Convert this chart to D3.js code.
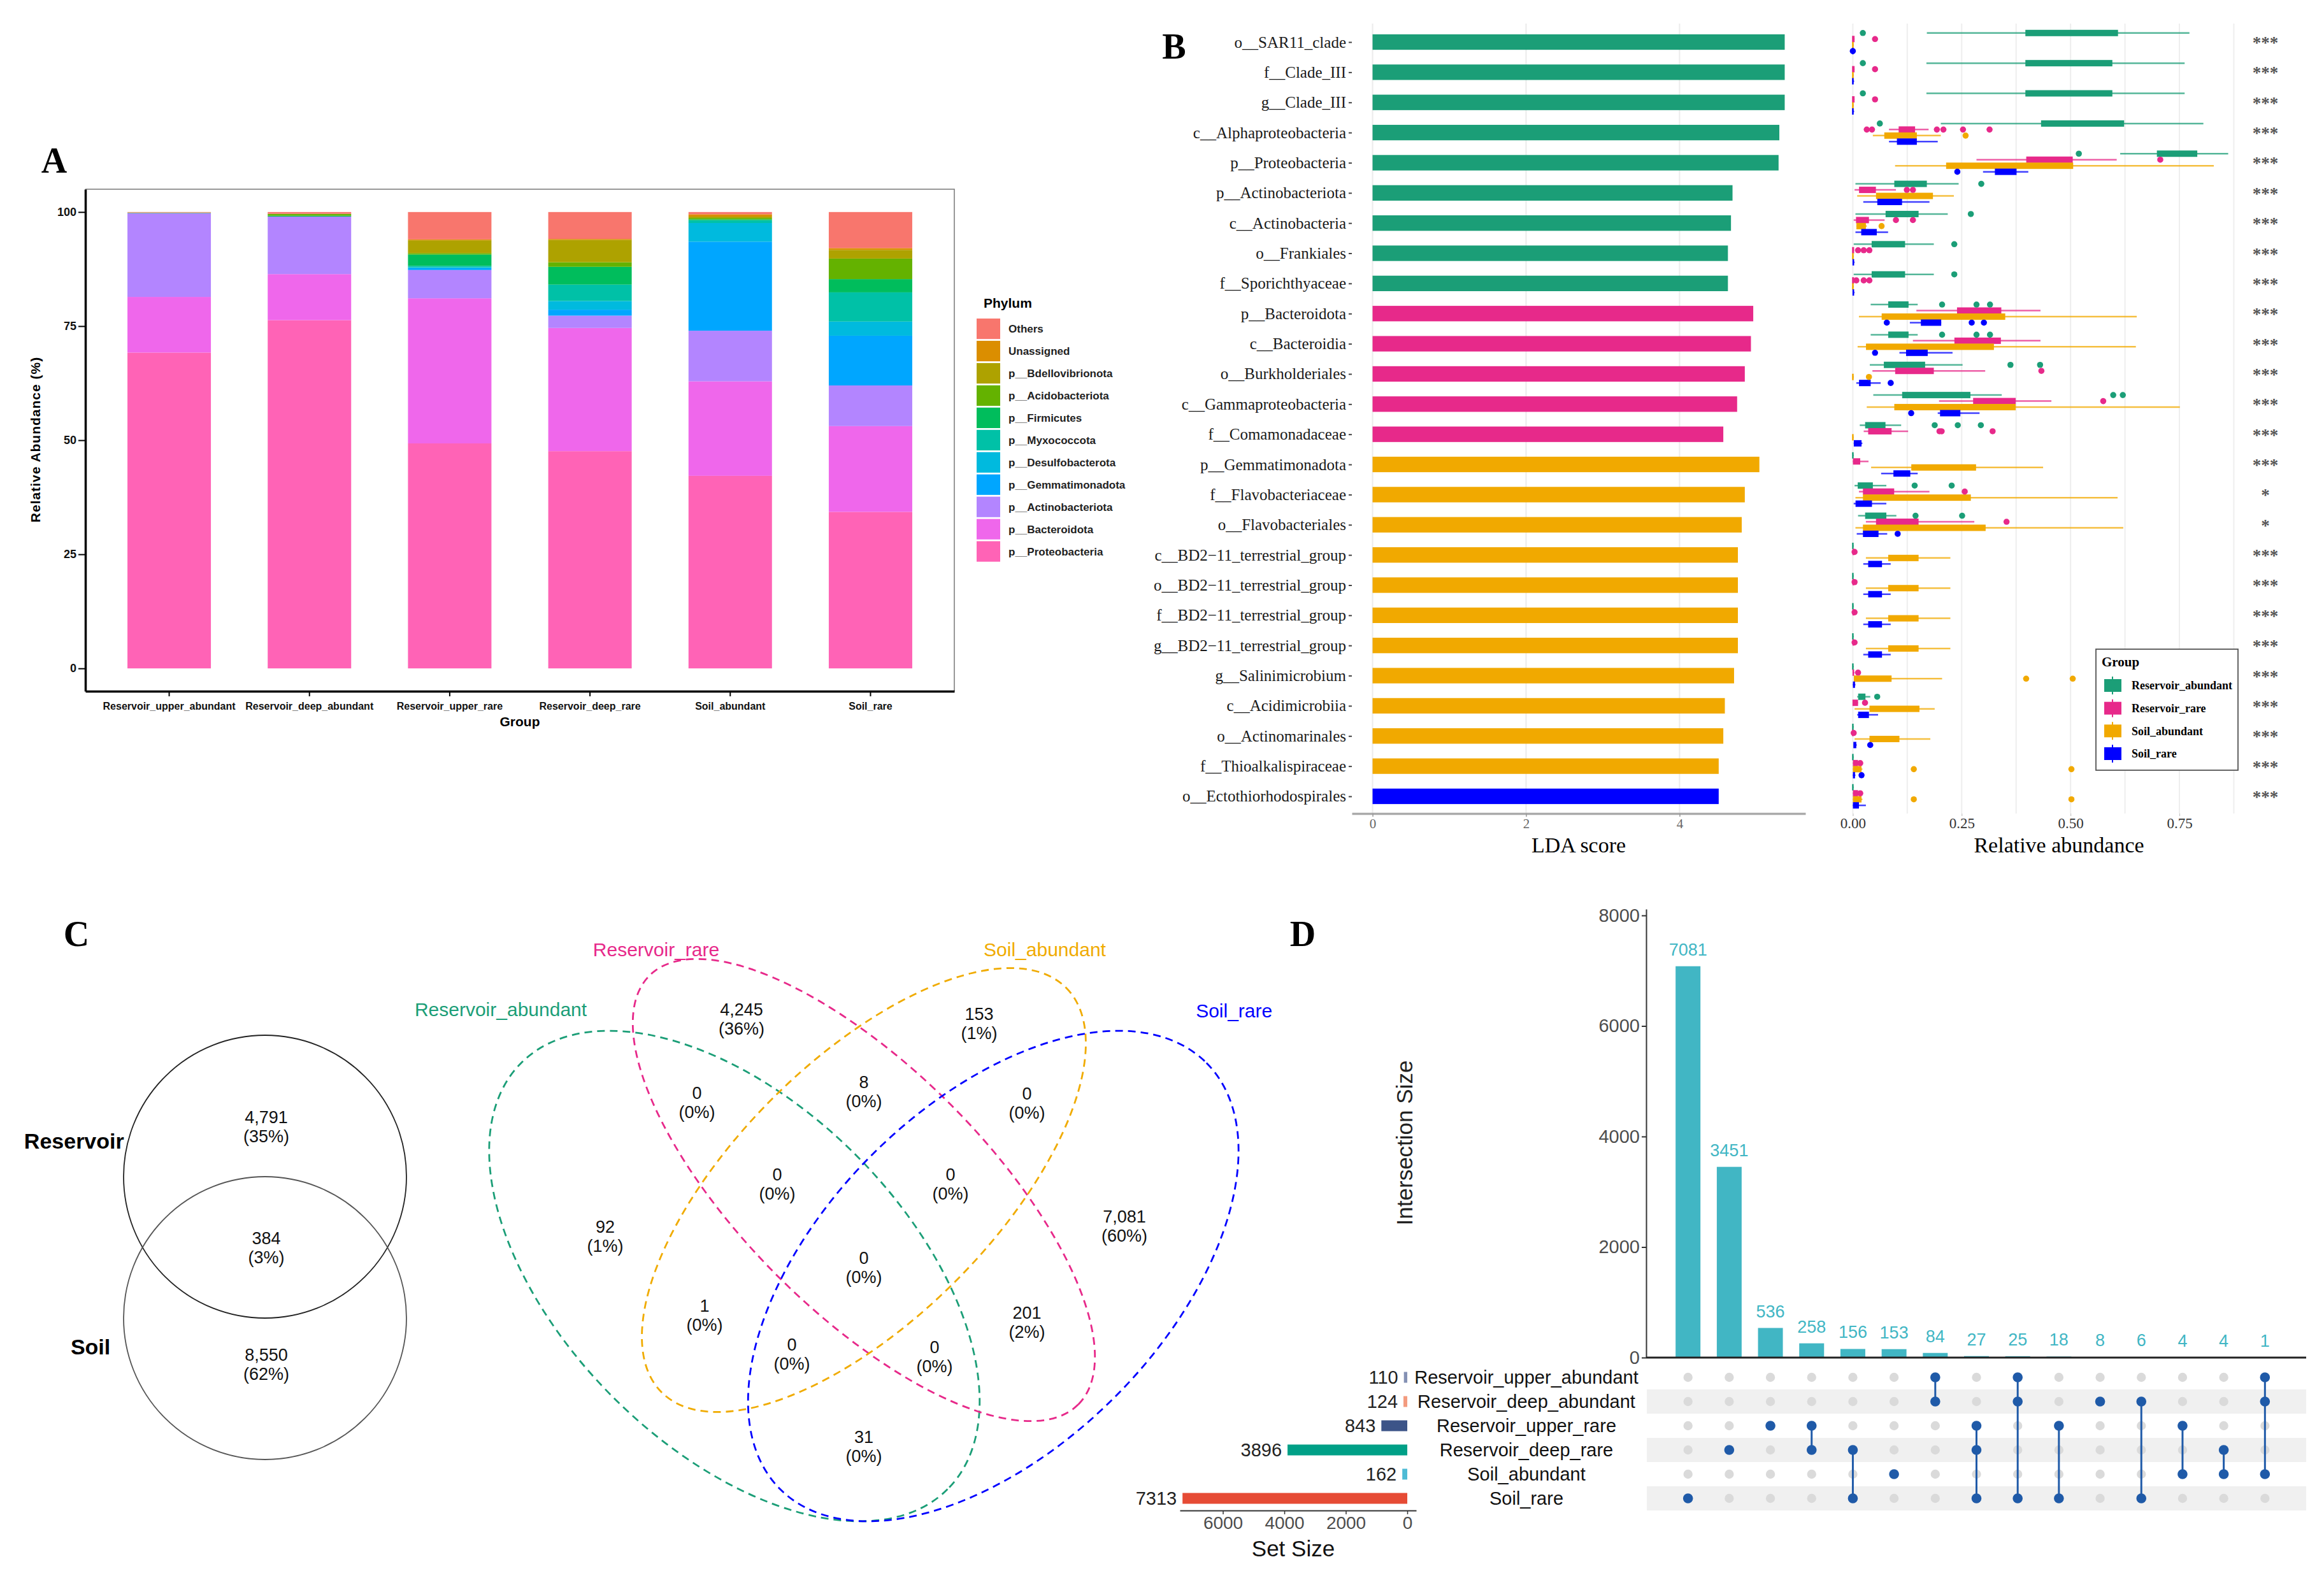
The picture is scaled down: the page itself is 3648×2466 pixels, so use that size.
<!DOCTYPE html>
<html>
<head>
<meta charset="utf-8">
<script src="https://cdn.jsdelivr.net/npm/d3@7"></script>
<style>
  body { margin: 0; background: #fff; }
  svg { display: block; }
  .sans { font-family: "Liberation Sans", Arial, sans-serif; }
  .serif { font-family: "Liberation Serif", "Times New Roman", serif; }
</style>
</head>
<body>
<svg id="fig" width="3648" height="2466"></svg>
<script>
// ---------------- data: panel A (phylum composition, %) ----------------
var groupsA = ["Reservoir_upper_abundant", "Reservoir_deep_abundant", "Reservoir_upper_rare",
    "Reservoir_deep_rare", "Soil_abundant", "Soil_rare"];
// stacking order, bottom first
var phyla = ["p__Proteobacteria", "p__Bacteroidota", "p__Actinobacteriota", "p__Gemmatimonadota",
    "p__Desulfobacterota", "p__Myxococcota", "p__Firmicutes", "p__Acidobacteriota",
    "p__Bdellovibrionota", "Unassigned", "Others"];
var proteobacteria = [69.2, 76.3, 49.3, 47.6, 42.2, 34.3];
var bacteroidota = [12.2, 10.1, 31.8, 27.0, 20.7, 18.8];
var actinobacteriota = [18.3, 12.6, 6.2, 2.7, 11.1, 8.9];
var gemmatimonadota = [0.0, 0.0, 0.4, 1.3, 19.5, 10.9];
var desulfobacterota = [0.1, 0.0, 0.2, 1.9, 4.1, 3.1];
var myxococcota = [0.0, 0.0, 0.3, 3.6, 0.6, 6.4];
var firmicutes = [0.0, 0.2, 2.5, 3.9, 0.2, 2.9];
var acidobacteriota = [0.0, 0.4, 0.3, 1.0, 0.3, 4.5];
var bdellovibrionota = [0.0, 0.0, 2.8, 4.9, 0.3, 1.9];
var unassigned = [0.1, 0.0, 0.2, 0.2, 0.5, 0.4];
var others = [0.1, 0.4, 6.0, 5.9, 0.5, 7.9];
var phylumValues = [proteobacteria, bacteroidota, actinobacteriota, gemmatimonadota,
    desulfobacterota, myxococcota, firmicutes, acidobacteriota, bdellovibrionota, unassigned, others];
var phylumColors = ["#FF63B6", "#EF67EB", "#B385FF", "#00A6FF", "#00BADE", "#00C1A7",
    "#00BD5C", "#64B200", "#AEA200", "#DB8E00", "#F8766D"];

// ---------------- data: panel B (LEfSe) ----------------
var ldaTaxa = ["o__SAR11_clade", "f__Clade_III", "g__Clade_III", "c__Alphaproteobacteria",
    "p__Proteobacteria", "p__Actinobacteriota", "c__Actinobacteria", "o__Frankiales",
    "f__Sporichthyaceae", "p__Bacteroidota", "c__Bacteroidia", "o__Burkholderiales",
    "c__Gammaproteobacteria", "f__Comamonadaceae", "p__Gemmatimonadota", "f__Flavobacteriaceae",
    "o__Flavobacteriales", "c__BD2\u221211_terrestrial_group", "o__BD2\u221211_terrestrial_group",
    "f__BD2\u221211_terrestrial_group", "g__BD2\u221211_terrestrial_group", "g__Salinimicrobium",
    "c__Acidimicrobiia", "o__Actinomarinales", "f__Thioalkalispiraceae", "o__Ectothiorhodospirales"];
var ldaScore = [5.37, 5.37, 5.37, 5.30, 5.29, 4.69, 4.67, 4.63, 4.63, 4.96, 4.93, 4.85, 4.75,
    4.57, 5.04, 4.85, 4.81, 4.76, 4.76, 4.76, 4.76, 4.71, 4.59, 4.57, 4.51, 4.51];
var ldaGroup = ["Reservoir_abundant", "Reservoir_abundant", "Reservoir_abundant", "Reservoir_abundant",
    "Reservoir_abundant", "Reservoir_abundant", "Reservoir_abundant", "Reservoir_abundant",
    "Reservoir_abundant", "Reservoir_rare", "Reservoir_rare", "Reservoir_rare", "Reservoir_rare",
    "Reservoir_rare", "Soil_abundant", "Soil_abundant", "Soil_abundant", "Soil_abundant",
    "Soil_abundant", "Soil_abundant", "Soil_abundant", "Soil_abundant", "Soil_abundant",
    "Soil_abundant", "Soil_abundant", "Soil_rare"];
var sigLabels = ["***", "***", "***", "***", "***", "***", "***", "***", "***", "***", "***", "***",
    "***", "***", "***", "*", "*", "***", "***", "***", "***", "***", "***", "***", "***", "***"];
var boxGroups = ["Reservoir_abundant", "Reservoir_rare", "Soil_abundant", "Soil_rare"];
var boxColors = ["#1B9E77", "#E7298A", "#F1A900", "#0000FF"];
// [lower whisker, q1, q3, upper whisker] per taxon
var raBox = [[0.170, 0.398, 0.609, 0.773], [0.169, 0.398, 0.596, 0.762], [0.169, 0.398, 0.596, 0.762],
    [0.202, 0.434, 0.623, 0.805], [0.614, 0.700, 0.791, 0.862], [0.006, 0.097, 0.170, 0.243],
    [0.006, 0.077, 0.151, 0.218], [0.002, 0.045, 0.120, 0.186], [0.002, 0.045, 0.120, 0.186],
    [0.041, 0.083, 0.128, 0.149], [0.041, 0.083, 0.128, 0.149], [0.039, 0.073, 0.166, 0.252],
    [0.047, 0.115, 0.270, 0.342], [0.016, 0.030, 0.075, 0.111], [0, 0, 0.001, 0.002],
    [0.004, 0.013, 0.046, 0.077], [0.012, 0.030, 0.077, 0.100], [0, 0, 0.001, 0.002],
    [0, 0, 0.001, 0.002], [0, 0, 0.001, 0.002], [0, 0, 0.001, 0.002], [0, 0, 0.001, 0.002],
    [0.010, 0.014, 0.029, 0.040], [0, 0, 0.001, 0.002], [0, 0, 0.001, 0.002], [0, 0, 0.001, 0.002]];
var raOut = [[0.023], [0.023], [0.023], [0.062], [0.519], [0.295], [0.271], [0.233], [0.233],
    [0.205, 0.284, 0.315], [0.205, 0.284, 0.315], [0.362, 0.430], [0.598, 0.620], [0.188, 0.241, 0.294],
    [], [0.142, 0.227], [0.144, 0.251], [], [], [], [], [], [0.056], [], [], []];
var rrBox = [[0, 0, 0.004, 0.004], [0, 0, 0.004, 0.004], [0, 0, 0.004, 0.004],
    [0.083, 0.107, 0.143, 0.174], [0.284, 0.400, 0.505, 0.606], [0.004, 0.016, 0.053, 0.099],
    [0.002, 0.009, 0.037, 0.073], [0, 0, 0.003, 0.003], [0, 0, 0.003, 0.003],
    [0.146, 0.241, 0.341, 0.431], [0.138, 0.235, 0.340, 0.431], [0.045, 0.099, 0.186, 0.304],
    [0.198, 0.278, 0.374, 0.456], [0.025, 0.037, 0.089, 0.127], [0, 0.002, 0.017, 0.036],
    [0.014, 0.025, 0.095, 0.176], [0.030, 0.055, 0.151, 0.279], [0, 0.001, 0.003, 0.004],
    [0, 0.001, 0.003, 0.004], [0, 0.001, 0.003, 0.004], [0, 0.001, 0.003, 0.004],
    [0, 0.001, 0.003, 0.004], [0, 0.001, 0.012, 0.012], [0, 0, 0.001, 0.002],
    [0, 0.002, 0.012, 0.017], [0, 0.002, 0.012, 0.017]];
var rrOut = [[0.051], [0.051], [0.051], [0.032, 0.044, 0.193, 0.208, 0.253, 0.314], [0.706],
    [0.124, 0.138], [0.099, 0.138], [0.012, 0.025, 0.038], [0.008, 0.025, 0.038], [], [], [0.433],
    [0.575], [0.199, 0.204, 0.321], [], [0.257], [0.353], [0.004], [0.004], [0.004], [0.004],
    [0.012], [0.028], [0.002], [0.017], [0.017]];
var saBox = [[0, 0, 0.002, 0.002], [0, 0, 0.002, 0.002], [0, 0, 0.002, 0.002],
    [0.046, 0.074, 0.147, 0.202], [0.097, 0.216, 0.506, 0.829], [0.010, 0.055, 0.184, 0.232],
    [0.008, 0.010, 0.030, 0.032], [0, 0, 0.002, 0.002], [0, 0, 0.002, 0.002],
    [0.014, 0.068, 0.350, 0.652], [0.011, 0.032, 0.324, 0.650], [0, 0, 0.002, 0.002],
    [0.032, 0.097, 0.374, 0.751], [0, 0, 0.001, 0.002], [0.042, 0.136, 0.283, 0.437],
    [0.006, 0.025, 0.271, 0.608], [0.006, 0.025, 0.305, 0.621], [0.030, 0.083, 0.151, 0.224],
    [0.030, 0.083, 0.151, 0.224], [0.030, 0.083, 0.151, 0.224], [0.030, 0.083, 0.151, 0.224],
    [0.004, 0.004, 0.089, 0.205], [0.004, 0.040, 0.153, 0.188], [0.004, 0.040, 0.107, 0.178],
    [0, 0.002, 0.020, 0.022], [0, 0.002, 0.020, 0.022]];
var saOut = [[], [], [], [0.259], [], [], [0.066], [], [], [], [], [0.037], [], [], [], [], [], [], [],
    [], [], [0.398, 0.505], [], [], [0.140, 0.502], [0.140, 0.502]];
var srBox = [[0, 0, 0.001, 0.001], [0, 0, 0.002, 0.003], [0, 0, 0.002, 0.003],
    [0.083, 0.103, 0.147, 0.195], [0.299, 0.328, 0.376, 0.403], [0.024, 0.058, 0.113, 0.176],
    [0.006, 0.021, 0.055, 0.081], [0, 0.001, 0.003, 0.004], [0, 0.001, 0.003, 0.004],
    [0.131, 0.158, 0.203, 0.203], [0.107, 0.124, 0.172, 0.229], [0.008, 0.016, 0.041, 0.064],
    [0.195, 0.202, 0.247, 0.291], [0.002, 0.004, 0.020, 0.022], [0.065, 0.095, 0.132, 0.149],
    [0.002, 0.008, 0.044, 0.077], [0.009, 0.025, 0.059, 0.079], [0.024, 0.037, 0.067, 0.087],
    [0.024, 0.037, 0.067, 0.087], [0.024, 0.037, 0.067, 0.087], [0.024, 0.037, 0.067, 0.087],
    [0, 0.002, 0.005, 0.006], [0.010, 0.014, 0.037, 0.058], [0.002, 0.003, 0.008, 0.009],
    [0, 0.002, 0.005, 0.006], [0, 0.002, 0.014, 0.030]];
var srOut = [[0], [], [], [], [0.240], [], [], [], [], [0.078, 0.273, 0.301], [0.051], [0.087], [0.134],
    [], [], [], [0.103], [], [], [], [], [], [], [0.040], [0.020], []];

// ---------------- data: panel C (Venn) ----------------
var vennTwoSets = ["Reservoir", "Soil"];
var vennTwoCounts = [4791, 384, 8550];          // Reservoir only, both, Soil only
var vennSets = ["Reservoir_abundant", "Reservoir_rare", "Soil_abundant", "Soil_rare"];
var vennColors = ["#1B9E77", "#E7298A", "#F0AB00", "#0000FF"];
var vennRegions = ["A", "B", "C", "D", "AB", "BC", "CD", "ABC", "BCD", "ABCD", "AC", "BD", "ACD", "ABD", "AD"];
var vennCounts = [92, 4245, 153, 7081, 0, 8, 0, 0, 0, 0, 1, 201, 0, 0, 31];

// ---------------- data: panel D (UpSet) ----------------
var upsetSets = ["Reservoir_upper_abundant", "Reservoir_deep_abundant", "Reservoir_upper_rare",
    "Reservoir_deep_rare", "Soil_abundant", "Soil_rare"];
var setSizes = [110, 124, 843, 3896, 162, 7313];
var setColors = ["#8491B4", "#F39B7F", "#3C5488", "#00A087", "#4DBBD5", "#E64B35"];
var interSizes = [7081, 3451, 536, 258, 156, 153, 84, 27, 25, 18, 8, 6, 4, 4, 1];
var interMembers = [[5], [3], [2], [2, 3], [3, 5], [4], [0, 1], [2, 3, 5], [0, 1, 5], [2, 5], [1],
    [1, 5], [2, 4], [3, 4], [0, 1, 4]];

// ========================================================================
var svg = d3.select("#fig");
svg.append("rect").attr("width", 3648).attr("height", 2466).attr("fill", "#fff");

function panelLetter(t, x, y) {
    svg.append("text").attr("class", "serif").attr("x", x).attr("y", y)
        .attr("text-anchor", "middle").attr("font-size", 56).attr("font-weight", "bold")
        .text(t);
}

// ============================ PANEL A ============================
panelLetter("A", 85, 271);
var gA = svg.append("g").attr("class", "sans");
var xA = d3.scaleBand().domain(groupsA).range([134, 1498]).paddingInner(0.405).paddingOuter(0.3);
var yA = d3.scaleLinear().domain([-5, 105]).range([1085, 297]);

var tableA = groupsA.map(function (g, i) {
    var row = { group: g };
    phyla.forEach(function (p, j) { row[p] = phylumValues[j][i]; });
    return row;
});
var stackA = d3.stack().keys(phyla)(tableA);

gA.append("g").selectAll("g").data(stackA).enter().append("g")
    .attr("fill", (d, i) => phylumColors[i])
    .selectAll("rect").data(d => d).enter().append("rect")
    .attr("x", d => xA(d.data.group)).attr("width", xA.bandwidth())
    .attr("y", d => yA(d[1])).attr("height", d => Math.max(0, yA(d[0]) - yA(d[1])));

// thin frame on top and right
gA.append("path").attr("d", "M134,297H1498V1085").attr("fill", "none")
    .attr("stroke", "#777").attr("stroke-width", 1.5);

var axAy = gA.append("g").attr("transform", "translate(134,0)")
    .call(d3.axisLeft(yA).tickValues([0, 25, 50, 75, 100]).tickSize(11).tickSizeOuter(0));
var axAx = gA.append("g").attr("transform", "translate(0,1085)")
    .call(d3.axisBottom(xA).tickSize(8).tickSizeOuter(0));
[axAy, axAx].forEach(function (ax) {
    ax.select(".domain").attr("stroke", "#000").attr("stroke-width", 3.5);
    ax.selectAll(".tick line").attr("stroke", "#000").attr("stroke-width", 2);
    ax.selectAll(".tick text").attr("font-size", 18).attr("font-weight", "bold")
        .attr("fill", "#111").attr("font-family", "Liberation Sans, Arial, sans-serif");
});
axAx.selectAll(".tick text").attr("font-size", 16).attr("dy", "1.1em");

gA.append("text").attr("transform", "translate(63,690) rotate(-90)")
    .attr("text-anchor", "middle").attr("font-size", 21).attr("font-weight", "bold")
    .attr("letter-spacing", 1).text("Relative Abundance (%)");
gA.append("text").attr("x", 816).attr("y", 1140).attr("text-anchor", "middle")
    .attr("font-size", 21).attr("font-weight", "bold").text("Group");

// legend (top entry = last stacked layer)
var legA = gA.append("g");
legA.append("text").attr("x", 1544).attr("y", 483).attr("font-size", 21)
    .attr("font-weight", "bold").text("Phylum");
var legOrder = phyla.slice().reverse();
var legY = d3.scaleBand().domain(legOrder).range([500, 500 + 34.7 * legOrder.length]).paddingInner(0.08);
legA.selectAll("rect").data(legOrder).enter().append("rect")
    .attr("x", 1533).attr("width", 37).attr("y", d => legY(d)).attr("height", legY.bandwidth())
    .attr("fill", d => phylumColors[phyla.indexOf(d)]);
legA.selectAll("text.lab").data(legOrder).enter().append("text").attr("class", "lab")
    .attr("x", 1583).attr("y", d => legY(d) + legY.bandwidth() / 2).attr("dy", "0.35em")
    .attr("font-size", 17).attr("font-weight", "bold").attr("fill", "#222").text(d => d);

// ============================ PANEL B ============================
panelLetter("B", 1843, 92);
var gB = svg.append("g").attr("class", "serif");
var yB = d3.scalePoint().domain(ldaTaxa).range([37.6, 1278.4]).padding(0.6);
var stepB = yB.step();
var xL = d3.scaleLinear().domain([-0.27, 5.64]).range([2122, 2834]);
var groupColor = d3.scaleOrdinal().domain(boxGroups).range(boxColors);

gB.append("g").selectAll("line").data([0, 2, 4]).enter().append("line")
    .attr("x1", d => xL(d)).attr("x2", d => xL(d)).attr("y1", 37).attr("y2", 1277)
    .attr("stroke", "#ebebeb").attr("stroke-width", 2);

var barH = stepB * 0.513;
gB.append("g").selectAll("rect").data(ldaTaxa).enter().append("rect")
    .attr("x", xL(0)).attr("width", (d, i) => xL(ldaScore[i]) - xL(0))
    .attr("y", d => yB(d) - barH / 2).attr("height", barH)
    .attr("fill", (d, i) => groupColor(ldaGroup[i]));

var axBy = gB.append("g").attr("transform", "translate(2122,0)")
    .call(d3.axisLeft(yB).tickSize(5).tickPadding(4));
axBy.select(".domain").remove();
axBy.selectAll(".tick line").attr("stroke", "#444").attr("stroke-width", 2);
axBy.selectAll(".tick text").attr("font-size", 25).attr("fill", "#1a1a1a")
    .attr("font-family", "Liberation Serif, Times New Roman, serif");

var axBx = gB.append("g").attr("transform", "translate(0,1277)")
    .call(d3.axisBottom(xL).tickValues([0, 2, 4]).tickFormat(d3.format("d")).tickSize(5).tickSizeOuter(0));
axBx.select(".domain").attr("stroke", "#aaa").attr("stroke-width", 3.5);
axBx.selectAll(".tick line").attr("stroke", "#999").attr("stroke-width", 1.5);
axBx.selectAll(".tick text").attr("font-size", 21).attr("fill", "#666")
    .attr("font-family", "Liberation Serif, Times New Roman, serif");
gB.append("text").attr("x", 2478).attr("y", 1338).attr("text-anchor", "middle")
    .attr("font-size", 34).text("LDA score");

// relative abundance box plots
var xR = d3.scaleLinear().domain([-0.043, 0.905]).range([2879, 3527]);
gB.append("g").selectAll("line").data(d3.range(0, 0.88, 0.125)).enter().append("line")
    .attr("x1", d => xR(d)).attr("x2", d => xR(d)).attr("y1", 37).attr("y2", 1277)
    .attr("stroke", "#eeeeee").attr("stroke-width", 2);

var dodge = d3.scaleBand().domain(boxGroups).range([-0.4 * stepB, 0.4 * stepB]);
var boxSets = [raBox, rrBox, saBox, srBox];
var outSets = [raOut, rrOut, saOut, srOut];
var boxRecs = [];
ldaTaxa.forEach(function (t, i) {
    boxGroups.forEach(function (g, k) {
        var b = boxSets[k][i];
        boxRecs.push({ taxon: t, group: g, lo: b[0], q1: b[1], q3: b[2], hi: b[3], out: outSets[k][i] });
    });
});
function yBox(d) { return yB(d.taxon) + dodge(d.group) + dodge.bandwidth() / 2; }

var gBox = gB.append("g");
gBox.selectAll("line.wh").data(boxRecs).enter().append("line").attr("class", "wh")
    .attr("x1", d => xR(d.lo)).attr("x2", d => xR(d.hi))
    .attr("y1", yBox).attr("y2", yBox)
    .attr("stroke", d => groupColor(d.group)).attr("stroke-opacity", 0.75).attr("stroke-width", 2.5);
gBox.selectAll("rect").data(boxRecs).enter().append("rect")
    .attr("x", d => xR(d.q1) - 1.2).attr("width", d => Math.max(2.5, xR(d.q3) - xR(d.q1) + 1.2))
    .attr("y", d => yBox(d) - 5).attr("height", 10)
    .attr("fill", d => groupColor(d.group));
var outRecs = [];
boxRecs.forEach(function (d) { d.out.forEach(function (v) { outRecs.push({ d: d, v: v }); }); });
gBox.selectAll("circle").data(outRecs).enter().append("circle")
    .attr("cx", o => xR(o.v)).attr("cy", o => yBox(o.d)).attr("r", 4.8)
    .attr("fill", o => groupColor(o.d.group));

var axR = gB.append("g").attr("transform", "translate(0,1277)")
    .call(d3.axisBottom(xR).tickValues([0, 0.25, 0.5, 0.75]).tickFormat(d3.format(".2f"))
        .tickSize(4).tickSizeOuter(0));
axR.select(".domain").remove();
axR.selectAll(".tick line").attr("stroke", "#bbb");
axR.selectAll(".tick text").attr("font-size", 23).attr("fill", "#333")
    .attr("font-family", "Liberation Serif, Times New Roman, serif");
gB.append("text").attr("x", 3232).attr("y", 1338).attr("text-anchor", "middle")
    .attr("font-size", 34).text("Relative abundance");

// significance stars
gB.append("g").selectAll("text").data(ldaTaxa).enter().append("text")
    .attr("x", 3556).attr("y", d => yB(d) + 10).attr("text-anchor", "middle")
    .attr("font-size", 27).attr("font-weight", "bold").attr("fill", "#555")
    .text((d, i) => sigLabels[i]);

// box legend
var legB = gB.append("g");
legB.append("rect").attr("x", 3290).attr("y", 1019).attr("width", 223).attr("height", 190)
    .attr("fill", "#fff").attr("stroke", "#555").attr("stroke-width", 1.8);
legB.append("text").attr("x", 3299).attr("y", 1046).attr("font-size", 21)
    .attr("font-weight", "bold").text("Group");
var legBy = d3.scalePoint().domain(boxGroups).range([1076, 1183]);
var legKeys = legB.selectAll("g.key").data(boxGroups).enter().append("g").attr("class", "key");
legKeys.append("line").attr("x1", 3316).attr("x2", 3316)
    .attr("y1", d => legBy(d) - 14).attr("y2", d => legBy(d) + 14)
    .attr("stroke", d => groupColor(d)).attr("stroke-width", 2);
legKeys.append("rect").attr("x", 3303).attr("width", 27)
    .attr("y", d => legBy(d) - 10).attr("height", 20).attr("fill", d => groupColor(d));
legKeys.append("text").attr("x", 3346).attr("y", d => legBy(d)).attr("dy", "0.35em")
    .attr("font-size", 18).attr("font-weight", "bold").text(d => d);

// ============================ PANEL C ============================
panelLetter("C", 120, 1485);
var gC = svg.append("g").attr("class", "sans");
var fmtCount = d3.format(",");

// two-set Venn, 1 unit = circle radius
var cx2 = d3.scaleLinear().domain([-1, 1]).range([194, 638]);
var cy2 = d3.scaleLinear().domain([-1, 1]).range([2180, 1736]);
var twoLayout = [{ set: "Reservoir", x: 0, y: 0.5 }, { set: "Soil", x: 0, y: -0.5 }];
gC.selectAll("circle.two").data(twoLayout).enter().append("circle").attr("class", "two")
    .attr("cx", d => cx2(d.x)).attr("cy", d => cy2(d.y)).attr("r", cx2(1) - cx2(0))
    .attr("fill", "none").attr("stroke", (d, i) => i === 0 ? "#222" : "#555").attr("stroke-width", 1.8);
var twoLabelPos = [{ x: -1.35, y: 0.752 }, { x: -1.234, y: -0.703 }];
gC.selectAll("text.setTwo").data(vennTwoSets).enter().append("text").attr("class", "setTwo")
    .attr("x", (d, i) => cx2(twoLabelPos[i].x)).attr("y", (d, i) => cy2(twoLabelPos[i].y))
    .attr("dy", "0.35em").attr("text-anchor", "middle").attr("font-size", 34)
    .attr("font-weight", "bold").text(d => d);
var twoTotal = d3.sum(vennTwoCounts);
var twoCountPos = [0.86, 0, -0.824];

function twoLine(g, x, y, count, total) {
    var t = g.append("text").attr("text-anchor", "middle").attr("font-size", 27).attr("fill", "#111");
    t.append("tspan").attr("x", x).attr("y", y - 14).attr("dy", "0.35em").text(fmtCount(count));
    t.append("tspan").attr("x", x).attr("y", y + 16).attr("dy", "0.35em")
        .text("(" + Math.round(count / total * 100) + "%)");
}
vennTwoCounts.forEach(function (c, i) { twoLine(gC, cx2(0) + 2, cy2(twoCountPos[i]), c, twoTotal); });

// four-set Venn
var vx = d3.scaleLinear().domain([-1, 1]).range([956, 1756]);
var vy = d3.scaleLinear().domain([-1, 1]).range([2268, 1468]);
var ellipseLayout = [
    { cx: -0.508, cy: -0.3375, a: 1.183, b: 0.673, rot: 45 },
    { cx: 0, cy: 0, a: 1.19, b: 0.478, rot: 45 },
    { cx: 0, cy: 0, a: 1.1225, b: 0.5075, rot: -45 },
    { cx: 0.508, cy: -0.3375, a: 1.183, b: 0.673, rot: -45 }];
gC.selectAll("ellipse").data(vennSets).enter().append("ellipse")
    .attr("cx", (d, i) => vx(ellipseLayout[i].cx)).attr("cy", (d, i) => vy(ellipseLayout[i].cy))
    .attr("rx", (d, i) => vx(ellipseLayout[i].a) - vx(0)).attr("ry", (d, i) => vx(ellipseLayout[i].b) - vx(0))
    .attr("transform", (d, i) => "rotate(" + ellipseLayout[i].rot + "," + vx(ellipseLayout[i].cx) + "," + vy(ellipseLayout[i].cy) + ")")
    .attr("fill", "none").attr("stroke", (d, i) => vennColors[i]).attr("stroke-width", 2.8)
    .attr("stroke-dasharray", "12,8");

var setLabelPos = [{ x: -1.425, y: 0.71 }, { x: -0.815, y: 0.943 }, { x: 0.71, y: 0.943 }, { x: 1.453, y: 0.705 }];
gC.selectAll("text.setFour").data(vennSets).enter().append("text").attr("class", "setFour")
    .attr("x", (d, i) => vx(setLabelPos[i].x)).attr("y", (d, i) => vy(setLabelPos[i].y))
    .attr("dy", "0.35em").attr("text-anchor", "middle").attr("font-size", 30)
    .attr("fill", (d, i) => vennColors[i]).text(d => d);

var regionPos = {
    A: [-1.015, -0.178], B: [-0.48, 0.673], C: [0.4525, 0.655], D: [1.0225, -0.14],
    AB: [-0.655, 0.345], BC: [0, 0.3875], CD: [0.64, 0.3425], ABC: [-0.34, 0.025], BCD: [0.34, 0.025],
    ABCD: [0, -0.3025], AC: [-0.625, -0.49], BD: [0.64, -0.5175], ACD: [-0.2825, -0.6425],
    ABD: [0.2775, -0.6525], AD: [0, -1.005]
};
var fourTotal = d3.sum(vennCounts);
vennRegions.forEach(function (r, i) {
    twoLine(gC, vx(regionPos[r][0]), vy(regionPos[r][1]), vennCounts[i], fourTotal);
});

// ============================ PANEL D ============================
panelLetter("D", 2045, 1485);
var gD = svg.append("g").attr("class", "sans");
var xI = d3.scalePoint().domain(d3.range(interSizes.length)).range([2585, 3620]).padding(1);
var yI = d3.scaleLinear().domain([0, 8115]).range([2131, 1427]);
var rowY = d3.scalePoint().domain(upsetSets).range([2162, 2352]);
var rowStep = rowY.step();
var teal = "#41B6C4", dotBlue = "#1F5AA8";

// intersection bars
gD.append("g").selectAll("rect").data(interSizes).enter().append("rect")
    .attr("x", (d, i) => xI(i) - 19.5).attr("width", 39)
    .attr("y", d => yI(d)).attr("height", d => yI(0) - yI(d)).attr("fill", teal);
gD.append("g").selectAll("text").data(interSizes).enter().append("text")
    .attr("x", (d, i) => xI(i)).attr("y", d => yI(d) - 17).attr("text-anchor", "middle")
    .attr("font-size", 27).attr("fill", teal).text(d => d);

var axI = gD.append("g").attr("transform", "translate(2584,0)")
    .call(d3.axisLeft(yI).tickValues([0, 2000, 4000, 6000, 8000]).tickFormat(d3.format("d"))
        .tickSize(7).tickSizeOuter(0));
axI.select(".domain").attr("stroke", "#333").attr("stroke-width", 2);
axI.selectAll(".tick line").attr("stroke", "#333").attr("stroke-width", 2);
axI.selectAll(".tick text").attr("font-size", 29).attr("fill", "#4d4d4d")
    .attr("font-family", "Liberation Sans, Arial, sans-serif");
gD.append("line").attr("x1", 2584).attr("x2", 3620).attr("y1", yI(0)).attr("y2", yI(0))
    .attr("stroke", "#222").attr("stroke-width", 3);
gD.append("text").attr("transform", "translate(2205,1794) rotate(-90)")
    .attr("text-anchor", "middle").attr("dy", "0.35em").attr("font-size", 35)
    .attr("fill", "#222").text("Intersection Size");

// matrix stripes, dots and connectors
gD.append("g").selectAll("rect").data(upsetSets.filter((d, i) => i % 2 === 1)).enter().append("rect")
    .attr("x", 2585).attr("width", 3620 - 2585).attr("y", d => rowY(d) - rowStep / 2)
    .attr("height", rowStep).attr("fill", "#f0f0f0");
var dots = [];
interSizes.forEach(function (s, i) {
    upsetSets.forEach(function (set, j) {
        dots.push({ col: i, set: set, on: interMembers[i].indexOf(j) >= 0 });
    });
});
gD.append("g").selectAll("circle").data(dots.filter(d => !d.on)).enter().append("circle")
    .attr("cx", d => xI(d.col)).attr("cy", d => rowY(d.set)).attr("r", 7.2).attr("fill", "#dadada");
gD.append("g").selectAll("line").data(interMembers.filter(m => m.length > 1)).enter().append("line")
    .attr("x1", m => xI(interMembers.indexOf(m))).attr("x2", m => xI(interMembers.indexOf(m)))
    .attr("y1", m => rowY(upsetSets[d3.min(m)])).attr("y2", m => rowY(upsetSets[d3.max(m)]))
    .attr("stroke", dotBlue).attr("stroke-width", 3);
gD.append("g").selectAll("circle").data(dots.filter(d => d.on)).enter().append("circle")
    .attr("cx", d => xI(d.col)).attr("cy", d => rowY(d.set)).attr("r", 7.8).attr("fill", dotBlue);

// set names
gD.append("g").selectAll("text").data(upsetSets).enter().append("text")
    .attr("x", 2396).attr("y", d => rowY(d)).attr("dy", "0.35em").attr("text-anchor", "middle")
    .attr("font-size", 29).attr("fill", "#111").text(d => d);

// set size bars
var xS = d3.scaleLinear().domain([-290, 7400]).range([2223, 1852]);
gD.append("g").selectAll("rect").data(upsetSets).enter().append("rect")
    .attr("x", (d, i) => xS(setSizes[i])).attr("width", (d, i) => xS(0) - xS(setSizes[i]))
    .attr("y", d => rowY(d) - 8.5).attr("height", 17).attr("fill", (d, i) => setColors[i]);
gD.append("g").selectAll("text").data(upsetSets).enter().append("text")
    .attr("x", (d, i) => xS(setSizes[i]) - 9).attr("y", d => rowY(d)).attr("dy", "0.35em")
    .attr("text-anchor", "end").attr("font-size", 29).attr("fill", "#222")
    .text((d, i) => setSizes[i]);
var axS = gD.append("g").attr("transform", "translate(0,2371)")
    .call(d3.axisBottom(xS).tickValues([0, 2000, 4000, 6000]).tickFormat(d3.format("d"))
        .tickSize(6).tickSizeOuter(0));
axS.select(".domain").attr("stroke", "#333").attr("stroke-width", 1.8);
axS.selectAll(".tick line").attr("stroke", "#333").attr("stroke-width", 1.5);
axS.selectAll(".tick text").attr("font-size", 28).attr("fill", "#4d4d4d")
    .attr("font-family", "Liberation Sans, Arial, sans-serif");
gD.append("text").attr("x", 2030).attr("y", 2443).attr("text-anchor", "middle")
    .attr("font-size", 35).attr("fill", "#111").text("Set Size");
</script>
</body>
</html>
